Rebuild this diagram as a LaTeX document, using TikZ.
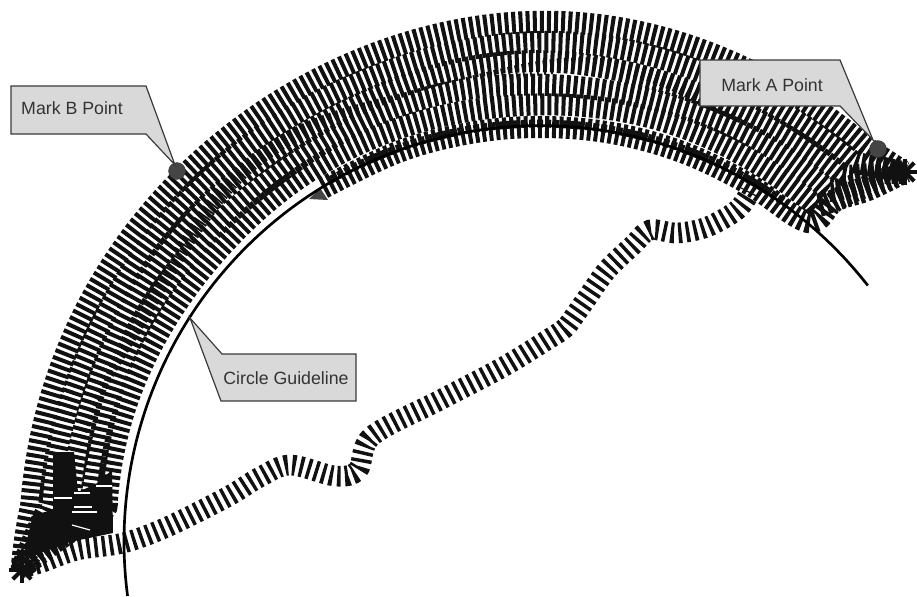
\documentclass[tikz,border=0pt]{standalone}
\usepackage{fontspec}
\setmainfont{Liberation Sans}
\definecolor{ink}{HTML}{111111}
\definecolor{calloutfill}{HTML}{D9D9D9}
\definecolor{calloutline}{HTML}{3A3A3A}
\definecolor{markfill}{HTML}{454545}
\definecolor{labeltext}{HTML}{333333}
\tikzset{
 x=0.75pt,y=-0.75pt,
 track/.style={draw=ink,line width=16.5pt,dash pattern=on 3pt off 2.3pt},
 thintrack/.style={draw=ink,line width=11pt,dash pattern=on 1.4pt off 3.9pt},
 wander/.style={draw=ink,line width=15.5pt,dash pattern=on 2.6pt off 3.2pt},
 densetrack/.style={draw=ink,line width=6pt,dash pattern=on 4.5pt off 1.5pt},
 guide/.style={draw=black,line width=2pt},
 callout/.style={draw=calloutline,fill=calloutfill,line width=0.9pt,line join=miter},
 calloutlabel/.style={text=labeltext,font=\fontsize{13.3}{15}\selectfont,inner sep=0pt},
 markdot/.style={circle,draw=calloutline,fill=markfill,line width=0.5pt,minimum size=12.5pt,inner sep=0pt},
 spoke/.style={draw=ink,line width=3pt},
 hairline/.style={draw=white,line width=0.9pt},
 declare function={
  ff(\s)=min(1,(6+3*\s)*sin(180*\s));
  gg(\s)=exp(0-((\s-0.7)/0.2)*((\s-0.7)/0.2));
 }
}
\begin{document}
\begin{tikzpicture}
\useasboundingbox (0,0) rectangle (917,596);
\coordinate (starL) at (22,570);
\coordinate (starR) at (905,172);
% sliver of a mark under the inner track
\fill[markfill] (309,199) -- (320,188) -- (328,200) -- cycle;
% main band of tracks: a / bump / wobble / phase
\foreach \a/\b/\w/\p in {510/10/0/0, 491/8/1/40, 472/7/2/120, 453/5/2/200, 435/3/1/300}{
 \draw[track] (starL) -- plot[smooth,domain=0.002:0.998,samples=170,variable=\x]
  ({540+(519+(\a+\b*gg(\x)+\w*sin(1080*\x+\p)-519)*ff(\x))*cos(177+137.7*\x)},
   {541.6+(519+(\a+\b*gg(\x)+\w*sin(1080*\x+\p)-519)*ff(\x))*sin(177+137.7*\x)}) -- (starR);
}
% wavering denser strand in the middle of the band
\draw[thintrack] (starL) -- plot[smooth,domain=0.002:0.998,samples=170,variable=\x]
  ({540+(519+(466+6*gg(\x)+9*sin(1080*\x)-519)*ff(\x))*cos(177+137.7*\x)},
   {541.6+(519+(466+6*gg(\x)+9*sin(1080*\x)-519)*ff(\x))*sin(177+137.7*\x)}) -- (starR);
% overlapping strokes fill the lower-left end of the band
\fill[ink] (53,452) -- (74,452) -- (78,492) -- (96,484) -- (112,470) -- (113,533) -- (70,542) -- (32,556) -- (25,548) -- (33,515) -- (53,510) -- cycle;
\draw[hairline] (54,498) -- (72,498);
\draw[hairline] (74,493) -- (90,493);
\draw[hairline] (74,507) -- (92,507);
\draw[hairline] (72,512) -- (97,512);
\draw[hairline] (96,486) -- (112,486);
\draw[hairline] (72,525) -- (90,530);
% inner track along the guideline
\draw[track] plot[smooth,tension=0.6] coordinates {(323,188) (398,152) (470,133) (540,127) (612,133) (682,152) (747,183) (808,222) (835,201) (868,190) (905,172)};
\draw[densetrack] plot[smooth,domain=240:306,samples=60,variable=\x] ({540+418*cos(\x)},{541.6+418*sin(\x)});
% wandering track
\draw[wander] plot[smooth,tension=0.55] coordinates {(20,568) (40,563) (77,550) (123,543) (167,527) (227,497) (260,477) (290,465) (335,476) (358,470) (372,436) (440,400) (503,367) (547,340) (565,328) (575,315) (587,298) (607,270) (633,245) (650,230) (677,233) (707,227) (737,210) (750,192)};
% end stars
\foreach \ang in {0,45,...,315}{
 \draw[spoke] (starL) -- ++(\ang:13);
 \draw[spoke] (starR) -- ++(\ang:13);
}
% guideline
\draw[guide] plot[smooth,domain=172.5:322,samples=120,variable=\x] ({540+416*cos(\x)},{541.6+416*sin(\x)});
% marks
\node[markdot] (markB) at (177,171) {};
\node[markdot] (markA) at (878,149) {};
% callouts
\draw[callout] (11,86) -- (146,86) -- (175,165) -- (146,134) -- (11,134) -- cycle;
\node[calloutlabel] (labelB) at (72,108) {Mark B Point};
\draw[callout] (700,60) -- (840,60) -- (873,140) -- (840,106) -- (700,106) -- cycle;
\node[calloutlabel] (labelA) at (772,85) {Mark A Point};
\draw[callout] (190,318) -- (222,354) -- (356,354) -- (356,401) -- (221,401) -- cycle;
\node[calloutlabel] (labelC) at (286,378) {Circle Guideline};
\end{tikzpicture}
\end{document}
